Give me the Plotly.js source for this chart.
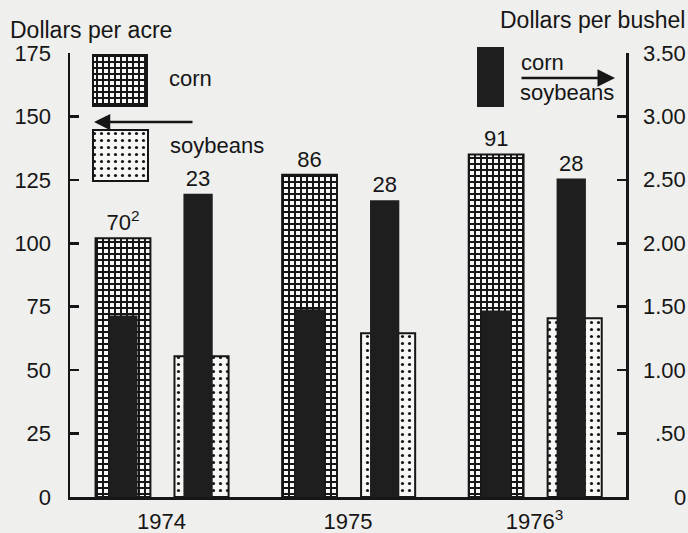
<!DOCTYPE html>
<html><head><meta charset="utf-8">
<script src="https://cdn.plot.ly/plotly-3.0.1.min.js"></script>
<style>html,body{margin:0;padding:0;background:#efefed}</style>
</head><body><div id="chart" style="width:688px;height:533px"></div>
<script>
// ---- data ----
const years = ['1974', '1975', '1976'];
const yearLabels = ['1974', '1975', '1976<sup>3</sup>'];
const cornPerAcre = [102, 127, 135];          // dollars per acre
const soyPerAcre = [55.5, 64.5, 70.5];        // dollars per acre
const cornPerBushel = [1.43, 1.48, 1.47];     // dollars per bushel
const soyPerBushel = [2.39, 2.34, 2.51];      // dollars per bushel
const cornYieldLabels = ['70<sup>2</sup>', '86', '91'];
const soyYieldLabels = ['23', '28', '28'];
const leftTicks = [0, 25, 50, 75, 100, 125, 150, 175];
const rightTicks = [0, 0.5, 1, 1.5, 2, 2.5, 3, 3.5];
const rightTickText = ['0', '.50', '1.00', '1.50', '2.00', '2.50', '3.00', '3.50'];

// ---- geometry helpers (pixels -> paper) ----
const W = 688, H = 533;
const M = {l: 70, r: 62, t: 53, b: 36};
const PW = W - M.l - M.r, PH = H - M.t - M.b;
const px = x => (x - M.l) / PW;
const py = y => (H - M.b - y) / PH;

const INK = '#161616';
const PAPER = '#efefed';
const FONT = 'Liberation Sans, Arial, Helvetica, sans-serif';
const FS = 22;
const TFS = 23;

const gridPattern = {shape: '+', fgcolor: INK, bgcolor: '#f7f7f5', size: 6, solidity: 0.55};
const dotPattern = {shape: '.', fgcolor: INK, bgcolor: '#f7f7f5', size: 7, solidity: 0.16};

const traces = [
  {type: 'bar', x: years, y: cornPerAcre, xaxis: 'x', yaxis: 'y',
   offset: -0.353, width: 0.294,
   marker: {color: '#f7f7f5', pattern: gridPattern, line: {color: INK, width: 2}},
   text: cornYieldLabels, textposition: 'outside', cliponaxis: false,
   textfont: {family: FONT, size: FS, color: INK}, hoverinfo: 'skip'},
  {type: 'bar', x: years, y: soyPerAcre, xaxis: 'x', yaxis: 'y',
   offset: 0.07, width: 0.29,
   marker: {color: '#f7f7f5', pattern: dotPattern, line: {color: INK, width: 2}},
   hoverinfo: 'skip'},
  {type: 'bar', x: years, y: cornPerBushel, xaxis: 'x', yaxis: 'y2',
   offset: -0.283, width: 0.155,
   marker: {color: '#1e1e1e', line: {width: 0}}, hoverinfo: 'skip'},
  {type: 'bar', x: years, y: soyPerBushel, xaxis: 'x', yaxis: 'y2',
   offset: 0.118, width: 0.157,
   marker: {color: '#1e1e1e', line: {width: 0}},
   text: soyYieldLabels, textposition: 'outside', cliponaxis: false,
   textfont: {family: FONT, size: FS, color: INK}, hoverinfo: 'skip'},
  // legend swatches on a pixel-scaled helper subplot
  {type: 'bar', x: [120], y: [51], base: [55], width: [54], xaxis: 'x2', yaxis: 'y3',
   marker: {color: '#f7f7f5', pattern: gridPattern, line: {color: INK, width: 2}}, hoverinfo: 'skip'},
  {type: 'bar', x: [120.5], y: [51], base: [130], width: [55], xaxis: 'x2', yaxis: 'y3',
   marker: {color: '#f7f7f5', pattern: dotPattern, line: {color: INK, width: 2}}, hoverinfo: 'skip'}
];

const annotations = [
  {text: 'Dollars per acre', xref: 'paper', yref: 'paper', x: px(8), y: py(30),
   xanchor: 'left', yanchor: 'middle', showarrow: false, font: {size: TFS}},
  {text: 'Dollars per bushel', xref: 'paper', yref: 'paper', x: px(687), y: py(20),
   xanchor: 'right', yanchor: 'middle', showarrow: false, font: {size: TFS}},
  {text: 'corn', xref: 'paper', yref: 'paper', x: px(167), y: py(79),
   xanchor: 'left', yanchor: 'middle', showarrow: false},
  {text: 'soybeans', xref: 'paper', yref: 'paper', x: px(168), y: py(145),
   xanchor: 'left', yanchor: 'middle', showarrow: false},
  {text: 'corn', xref: 'paper', yref: 'paper', x: px(519), y: py(62),
   xanchor: 'left', yanchor: 'middle', showarrow: false},
  {text: 'soybeans', xref: 'paper', yref: 'paper', x: px(518), y: py(93),
   xanchor: 'left', yanchor: 'middle', showarrow: false},
  {text: '', xref: 'paper', yref: 'paper', x: px(94), y: py(122), ax: 100, ay: 0,
   showarrow: true, arrowhead: 2, arrowsize: 1.3, arrowwidth: 2.5, arrowcolor: INK},
  {text: '', xref: 'paper', yref: 'paper', x: px(615), y: py(78), ax: -95, ay: 0,
   showarrow: true, arrowhead: 2, arrowsize: 1.4, arrowwidth: 2.5, arrowcolor: INK}
];
rightTicks.forEach((v, i) => annotations.push({
  text: rightTickText[i], xref: 'paper', yref: 'y2', x: px(688), y: v,
  xanchor: 'right', yanchor: 'middle', showarrow: false}));

const layout = {
  width: W, height: H,
  margin: M,
  paper_bgcolor: PAPER, plot_bgcolor: PAPER,
  font: {family: FONT, size: FS, color: INK},
  showlegend: false,
  barmode: 'overlay',
  xaxis: {type: 'category', range: [-0.49, 2.49], tickvals: years, ticktext: yearLabels,
          showline: true, linecolor: INK, linewidth: 2.5, ticks: '', showgrid: false,
          zeroline: false, ticklabelstandoff: 3, fixedrange: true},
  yaxis: {range: [0, 175], tickvals: leftTicks, showline: true, linecolor: INK, linewidth: 2.5,
          ticks: 'inside', ticklen: 9, tickwidth: 2.5, tickcolor: INK, showgrid: false,
          zeroline: false, ticklabelstandoff: 12, fixedrange: true},
  yaxis2: {range: [0, 3.5], tickvals: rightTicks, overlaying: 'y', side: 'right',
           showline: true, linecolor: INK, linewidth: 2.5, ticks: 'inside', ticklen: 9,
           tickwidth: 2.5, tickcolor: INK, showgrid: false, zeroline: false,
           showticklabels: false, fixedrange: true},
  xaxis2: {range: [M.l, W - M.r], overlaying: 'x', anchor: 'y3', visible: false, fixedrange: true},
  yaxis3: {range: [H - M.b, M.t], overlaying: 'y', anchor: 'x2', visible: false, fixedrange: true},
  shapes: [
    {type: 'rect', xref: 'paper', yref: 'paper', x0: px(477), x1: px(504), y0: py(107), y1: py(47),
     fillcolor: '#1e1e1e', line: {width: 0}}
  ],
  annotations: annotations
};

Plotly.newPlot('chart', traces, layout, {displayModeBar: false, staticPlot: true});
</script>
</body></html>
